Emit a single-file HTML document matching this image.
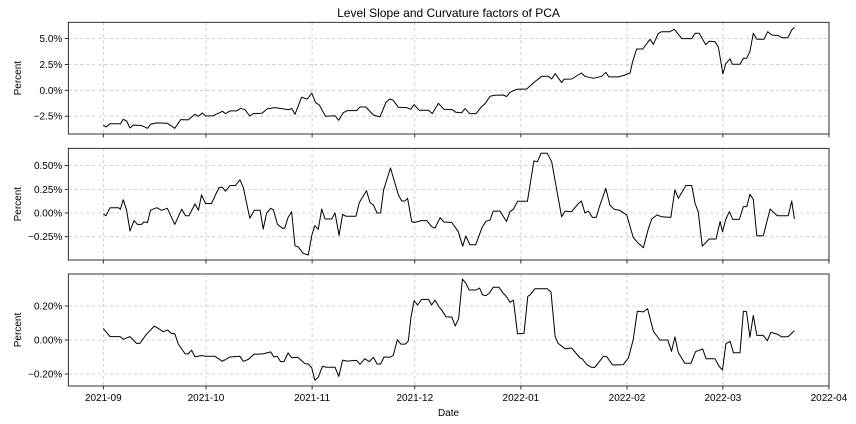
<!DOCTYPE html>
<html><head><meta charset="utf-8"><style>
body{margin:0;background:#fff}
svg{display:block;font-family:"Liberation Sans","DejaVu Sans",sans-serif}
</style></head><body>
<svg id="chart" width="856" height="424" viewBox="0 0 856 424" xmlns="http://www.w3.org/2000/svg">
<text x="448.5" y="17" text-anchor="middle" font-size="12">Level Slope and Curvature factors of PCA</text>
<text x="448.5" y="416" text-anchor="middle" font-size="10">Date</text>
</svg>
<script>
// Data (days since 2021-09-01, values in percent)
const xTickLabels = ["2021-09","2021-10","2021-11","2021-12","2022-01","2022-02","2022-03","2022-04"];
const xTickDays = [0,30,61,91,122,153,181,212];
const levelDays = [0,0.8,2,4.4,5,5.8,6.8,7.8,8.8,11.2,12.9,13.8,15.6,18.7,20.9,22.6,24.8,26.8,27.8,28.9,29.9,32.1,34.8,35.7,37,38.9,40.1,41.4,42.8,43.8,46.3,47.9,50.1,52.6,54.3,55,56,57.9,59.6,60.9,62,63.1,64.9,67.7,68.8,70.1,71.3,74,75,76.7,78.9,80.8,82.6,83.7,84.7,86.2,88.6,89.8,90.8,92.3,95,96.1,97.9,99.5,102,103,104.7,105.7,107,108.9,110.5,111.5,113,114.4,116.9,117.8,118.8,120.8,123.7,126.1,128.1,130,131,132,133.9,134.6,136.8,139.7,140.7,143.2,145.6,146.8,147.7,150.5,152.4,153.9,154.5,155.8,157.6,159.7,160.7,162.1,163.1,165.5,166.8,169,171.9,172.9,174.1,176,177,178.7,179.7,181,181.9,183.1,183.8,186,187,187.9,188.9,189.9,190.9,193,194.1,195.3,197.2,198.2,200,201.1,201.9];
const levelValues = [-3.35,-3.54,-3.22,-3.22,-3.25,-2.8,-2.96,-3.64,-3.35,-3.41,-3.67,-3.28,-3.15,-3.19,-3.67,-2.83,-2.86,-2.32,-2.51,-2.19,-2.48,-2.45,-2.03,-2.25,-1.99,-1.99,-1.74,-1.87,-2.48,-2.25,-2.22,-1.8,-1.67,-1.8,-1.87,-1.74,-2.32,-0.68,-0.84,-0.26,-1.19,-1.42,-2.51,-2.45,-2.9,-2.16,-1.96,-1.96,-1.61,-1.61,-2.38,-2.57,-1.16,-0.84,-0.97,-1.64,-1.67,-1.83,-1.38,-1.93,-1.93,-2.25,-1.25,-1.83,-1.87,-2.12,-2.16,-1.77,-2.25,-2.25,-1.58,-1.29,-0.58,-0.48,-0.45,-0.61,-0.19,0.1,0.13,0.84,1.35,1.35,1.09,1.61,0.74,1.06,1.09,1.67,1.35,1.16,1.35,1.74,1.29,1.29,1.48,1.67,2.61,3.99,3.99,4.92,4.44,5.47,5.66,5.66,5.89,4.99,4.99,5.5,5.5,4.41,4.73,4.7,4.15,1.58,2.61,3.02,2.51,2.51,3.09,3.09,3.73,5.5,4.92,4.92,5.66,5.34,5.28,5.08,5.08,5.82,6.08];
const slopeDays = [0,0.8,2,4.4,5,5.8,6.8,7.8,9,10,11.2,11.9,12.9,13.8,15.6,17,18.7,20.9,22.9,24,25,26.8,27.8,28.7,29.9,31.6,33.8,34.8,35.7,37,38.6,39.9,40.9,42.8,44.1,45.8,46.7,47.7,48.9,49.7,50.9,52.3,53,54,55,56,57,58.4,59.9,60.9,61.8,62.8,63.8,64.8,66.7,67.7,68.9,69.9,70.9,73.8,74.8,76.9,77.9,78.9,80,81,81.9,83.9,86.2,87.2,88.1,88.9,90.1,90.8,93,94.5,95.9,96.9,98.4,99.5,101.8,103.7,105,105.9,107.1,108.8,110.7,111.8,113,113.9,115.9,117.8,118.8,119.8,121,123.9,125.8,126.8,127.9,129.7,131,133.9,134.9,136.8,138.8,139.7,140.7,141.7,142.9,144,145.1,146.8,148,149.2,150.8,152.9,154.8,156.3,157.8,159.2,160.2,161.8,163.1,165.8,167,168,170.2,171.9,172.9,173.8,175,177,179,180.2,180.9,181.9,182.9,183.9,185.8,187,188,188.9,189.9,190.9,192.8,194.8,196.9,200.1,201.1,201.9];
const slopeValues = [-0.01,-0.03,0.056,0.056,0.04,0.14,0.03,-0.19,-0.08,-0.12,-0.12,-0.095,-0.1,0.03,0.056,0.028,0.05,-0.12,0.04,-0.03,-0.03,0.095,0.03,0.19,0.1,0.1,0.27,0.27,0.23,0.29,0.29,0.35,0.27,-0.056,0.03,0.03,-0.17,0,0.05,0.035,-0.12,-0.16,-0.16,-0.046,0.014,-0.345,-0.36,-0.425,-0.443,-0.236,-0.134,-0.172,0.042,-0.063,-0.063,0,-0.236,-0.014,-0.035,-0.035,0.11,0.236,0.11,0.084,0,0,0.243,0.475,0.19,0.127,0.127,0.155,-0.09,-0.1,-0.08,-0.08,-0.144,-0.158,-0.05,-0.095,-0.1,-0.197,-0.35,-0.243,-0.334,-0.334,-0.15,-0.088,-0.074,0.02,0.02,-0.09,0.014,0.04,0.123,0.123,0.55,0.54,0.63,0.63,0.54,-0.04,0.02,0.014,0.1,0.127,0,0.02,-0.046,-0.046,0.084,0.26,0.084,0.04,0.03,-0.02,-0.257,-0.32,-0.366,-0.172,-0.063,-0.02,-0.04,-0.046,0.243,0.155,0.29,0.29,0.1,0.014,-0.35,-0.274,-0.274,-0.09,-0.197,-0.063,0.014,-0.067,-0.067,0.067,0.067,0.197,0.144,-0.24,-0.24,0.042,-0.028,-0.028,0.127,-0.063];
const curveDays = [0,2,4.9,5.8,7.8,9.7,10.7,12.5,14.9,15.6,17.5,18.8,19.8,20.9,21.9,23.9,24.8,25.8,26.8,28.7,29.9,32.6,34.8,37,39.9,40.9,42.4,44,46.7,48.9,49.8,50.8,51.8,52.8,54,55,56.8,58.9,59.9,60.9,61.8,62.8,64,65.2,67.7,68.8,69.9,71.1,74,75,76.4,77.7,78.9,80,81,82,83.7,84.7,85.9,86.9,88.2,89.1,89.9,90.8,91.8,93,95,95.9,96.9,98.1,98.8,100.1,101.8,102.8,103.8,104.9,105.9,106.9,108.9,109.9,110.8,111.8,112.8,113.9,115.6,116.7,117.8,118.8,119.8,121,122.9,124,124.8,126.1,129.7,130.8,132,132.9,134.9,136.8,139.3,140,141.2,142.7,143.6,146.1,147.1,148.7,149.2,151.9,153.4,154.8,156,157.8,159,160.7,162.6,164.9,166,167,168,169.9,171.7,173,175.1,176.1,178.7,179.9,180.9,181.9,183.1,184.1,186,187,187.9,188.9,189.9,190.9,192.8,194,195,196.9,198.2,200.1,201.9];
const curveValues = [0.067,0.02,0.02,0.004,0.02,-0.02,-0.02,0.031,0.082,0.074,0.049,0.059,0.039,0.037,-0.024,-0.082,-0.082,-0.06,-0.098,-0.092,-0.096,-0.096,-0.125,-0.1,-0.096,-0.125,-0.114,-0.084,-0.082,-0.07,-0.1,-0.096,-0.127,-0.127,-0.076,-0.104,-0.102,-0.139,-0.141,-0.165,-0.237,-0.218,-0.155,-0.16,-0.16,-0.214,-0.118,-0.124,-0.12,-0.143,-0.11,-0.127,-0.102,-0.141,-0.141,-0.1,-0.102,-0.092,0.002,-0.024,-0.024,-0.006,0.135,0.231,0.206,0.239,0.239,0.206,0.235,0.194,0.178,0.137,0.135,0.082,0.125,0.359,0.335,0.294,0.294,0.306,0.265,0.261,0.276,0.31,0.31,0.278,0.255,0.222,0.235,0.037,0.039,0.257,0.267,0.302,0.302,0.282,0.022,-0.02,-0.051,-0.047,-0.106,-0.112,-0.145,-0.161,-0.161,-0.096,-0.098,-0.145,-0.147,-0.145,-0.106,0.002,0.169,0.165,0.184,0.051,0,0,-0.067,0.018,-0.076,-0.137,-0.137,-0.069,-0.053,-0.11,-0.11,-0.155,-0.176,-0.022,-0.008,-0.075,-0.075,0.169,0.167,0.016,0.145,0.027,0.027,-0.004,0.045,0.035,0.018,0.02,0.055];
const levelTicks = [-2.5,0,2.5,5];
const slopeTicks = [-0.25,0,0.25,0.5];
const curveTicks = [-0.2,0,0.2];

const NS = "http://www.w3.org/2000/svg";
const svg = document.getElementById("chart");
const X0 = 68.3, X1 = 829, D0X = 103.3, PXD = 3.423;
function xScale(d){ return D0X + d*PXD; }
function mk(tag, attrs, parent){
  const e = document.createElementNS(NS, tag);
  for (const k in attrs) e.setAttribute(k, attrs[k]);
  (parent||svg).appendChild(e);
  return e;
}
function fmt(v, dec){
  const s = Math.abs(v).toFixed(dec) + "%";
  return (v < 0 ? "\u2212" : "") + s;
}
const panels = [
  {name:"level", top:22.3, bot:134, zeroY:90.3, ppu:10.36, days:levelDays, vals:levelValues, ticks:levelTicks, dec:1, label:false},
  {name:"slope", top:148.3, bot:260, zeroY:213, ppu:94.8, days:slopeDays, vals:slopeValues, ticks:slopeTicks, dec:2, label:false},
  {name:"curvature", top:274, bot:386, zeroY:340, ppu:170, days:curveDays, vals:curveValues, ticks:curveTicks, dec:2, label:true}
];
panels.forEach(p => {
  const g = mk("g", {});
  
  
  const yS = v => p.zeroY - v*p.ppu;
  // grid x
  xTickDays.forEach((d, i) => {
    const x = xScale(d);
    if (x > X0 && x < X1) {
      const gl = mk("line", {x1:x, x2:x, y1:p.top, y2:p.bot, stroke:"#b0b0b0", "stroke-width":0.8, "stroke-dasharray":"3,3", opacity:0.8}, g);
      
      
    }
    const tk = mk("line", {x1:x, x2:x, y1:p.bot, y2:p.bot+3.5, stroke:"#000", "stroke-width":0.8}, g);
    
    
    if (p.label) {
      const t = mk("text", {x:x, y:p.bot+15, "text-anchor":"middle", "font-size":10}, g);
      t.textContent = xTickLabels[i];
      
      
    }
  });
  p.ticks.forEach(v => {
    const y = yS(v);
    const gl = mk("line", {x1:X0, x2:X1, y1:y, y2:y, stroke:"#b0b0b0", "stroke-width":0.8, "stroke-dasharray":"3,3", opacity:0.8}, g);
    
    
    const tk = mk("line", {x1:X0-3.5, x2:X0, y1:y, y2:y, stroke:"#000", "stroke-width":0.8}, g);
    
    
    const t = mk("text", {x:X0-6, y:y+3.5, "text-anchor":"end", "font-size":10}, g);
    t.textContent = fmt(v, p.dec);
    
    
  });
  const pts = p.days.map((d, i) => xScale(d).toFixed(1) + "," + yS(p.vals[i]).toFixed(1)).join(" ");
  const line = mk("polyline", {points:pts, fill:"none", stroke:"#000", "stroke-width":1, "stroke-linejoin":"round"}, g);
  
  
  const fr = mk("rect", {x:X0, y:p.top, width:X1-X0, height:p.bot-p.top, fill:"none", stroke:"#000", "stroke-width":0.8}, g);
  
  
  const yl = mk("text", {x:0, y:0, "text-anchor":"middle", "font-size":10, transform:"translate(21," + ((p.top+p.bot)/2) + ") rotate(-90)"}, g);
  yl.textContent = "Percent";
  
  
});
</script>
</body></html>
